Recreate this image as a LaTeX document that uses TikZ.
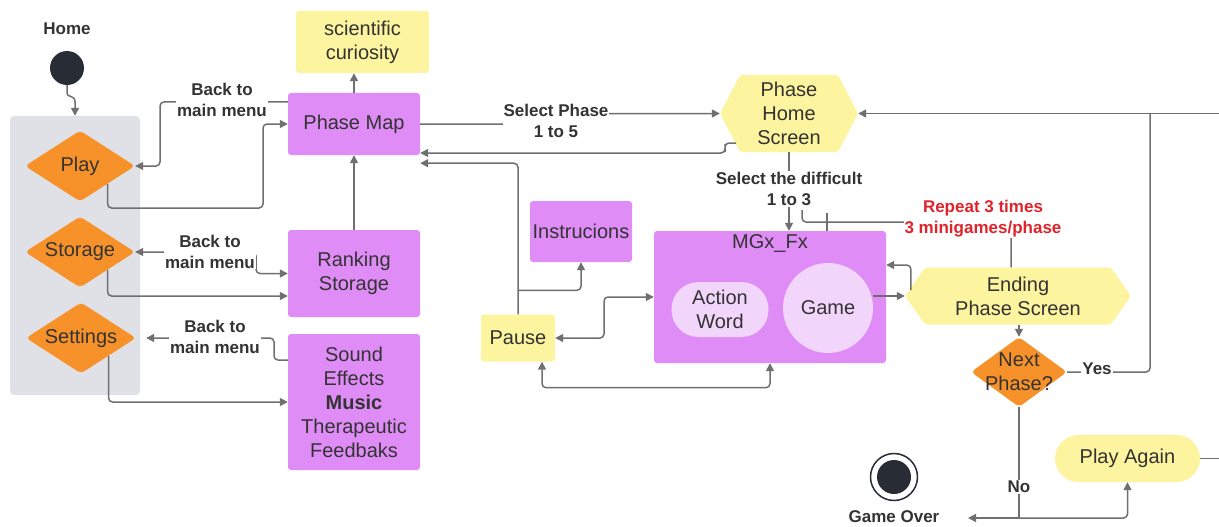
\documentclass[tikz,border=0pt]{standalone}
\usepackage{fontspec}
\setmainfont{Liberation Sans}
\usetikzlibrary{arrows.meta,shapes.geometric}
\definecolor{purc}{HTML}{DF8CF6}
\definecolor{yelc}{HTML}{FCF49E}
\definecolor{orc}{HTML}{F7922B}
\definecolor{grayc}{HTML}{DFE1E6}
\definecolor{linec}{HTML}{6F6F6F}
\definecolor{txtc}{HTML}{333333}
\definecolor{darkc}{HTML}{282C34}
\definecolor{lpc}{HTML}{F2D5FB}
\definecolor{redc}{HTML}{E0242B}
\newcommand\nfont{\fontsize{20}{24}\selectfont}
\newcommand\lfont{\fontsize{17}{21}\selectfont\bfseries}
\begin{document}
\begin{tikzpicture}[x=1pt,y=-1pt,
 box/.style={rounded corners=3pt, text=txtc, font=\nfont, align=center, inner sep=0pt},
 pbox/.style={box, fill=purc},
 ybox/.style={box, fill=yelc},
 dia/.style={diamond, fill=orc, inner sep=0pt, rounded corners=4pt},
 dtext/.style={text=txtc, font=\nfont, align=center},
 hexa/.style={text=txtc, font=\nfont, align=center, inner sep=0pt,
   path picture={\fill[yelc, rounded corners=3pt] (path picture bounding box.west) -- ([xshift=#1]path picture bounding box.north west) -- ([xshift=-#1]path picture bounding box.north east) -- (path picture bounding box.east) -- ([xshift=-#1]path picture bounding box.south east) -- ([xshift=#1]path picture bounding box.south west) -- cycle;}},
 hexa/.default=20pt,
 conn/.style={draw=linec, line width=1.5pt, rounded corners=4pt},
 >={Triangle[length=8pt,width=8pt]},
 lbl/.style={fill=white, font=\lfont, text=txtc, align=center, inner sep=1pt},
]
\useasboundingbox (0,0) rectangle (1219,527);

% left column
\node[font=\lfont, text=txtc] (homel) at (67,29) {Home};
\node[circle, fill=darkc, minimum size=34pt, inner sep=0pt] (start) at (67,68) {};
\node[fill=grayc, rounded corners=4pt, minimum width=130pt, minimum height=279pt, inner sep=0pt] (grp) at (75,255.5) {};
\node[dia, minimum width=110pt, minimum height=71pt, label={[dtext]center:Play}] (play) at (80,166) {};
\node[dia, minimum width=110pt, minimum height=71pt, label={[dtext]center:Storage}] (stor) at (80,252) {};
\node[dia, minimum width=110pt, minimum height=71pt, label={[dtext]center:Settings}] (set) at (81,338) {};

% boxes
\node[ybox, minimum width=133pt, minimum height=62pt] (sci) at (362.5,42) {scientific\\curiosity};
\node[pbox, minimum width=132pt, minimum height=62pt] (pm) at (354,124) {Phase Map};
\node[pbox, minimum width=132pt, minimum height=87pt] (rank) at (354,273.5) {Ranking\\Storage};
\node[pbox, minimum width=132pt, minimum height=136pt] (snd) at (354,402) {Sound\\Effects\\\textbf{Music}\\Therapeutic\\Feedbaks};
\node[pbox, minimum width=102pt, minimum height=61pt] (ins) at (581,231.5) {Instrucions};
\node[ybox, minimum width=74pt, minimum height=47pt] (pause) at (518,338) {Pause};
\node[pbox, minimum width=232pt, minimum height=132pt] (mgx) at (770,297) {};
\node[text=txtc, font=\nfont, inner sep=0pt] (mgxt) at (770,244) {MGx\_Fx};
\node[box, fill=lpc, rounded corners=27pt, minimum width=97pt, minimum height=55pt] (aw) at (720,309.5) {Action\\Word};
\node[circle, fill=lpc, minimum size=90pt, text=txtc, font=\nfont, inner sep=0pt] (game) at (828,308) {Game};
\node[hexa, minimum width=138pt, minimum height=77pt] (phs) at (789,113.5) {Phase\\Home\\Screen};
\node[hexa, minimum width=226pt, minimum height=57pt] (end) at (1018,296) {Ending\\Phase Screen};
\node[dia, minimum width=96pt, minimum height=70pt, label={[dtext]center:{Next\\Phase?}}] (np) at (1019,372) {};
\node[ybox, rounded corners=23.5pt, minimum width=145pt, minimum height=47pt] (again) at (1127.5,458.5) {Play Again};
\node[circle, draw=darkc, line width=1.5pt, minimum size=47pt, inner sep=0pt] (go) at (894,477) {};
\node[circle, fill=darkc, minimum size=34pt, inner sep=0pt] (goin) at (go.center) {};
\node[font=\lfont, text=txtc] (gol) at (894,517) {Game Over};

% free ends
\coordinate (re1) at (1219,113.5);
\coordinate (re2) at (1219,458.5);
\coordinate (tk) at (827,213);
\coordinate (nj) at (1019,518);
\coordinate (gox) at (968,518);

% connectors
\draw[conn,->,rounded corners=0pt] (start.south) -- (67,92) .. controls (67,99) and (75,94) .. (75,102) -- (grp.north);
\draw[conn,->] (play.south east) |- (263,208) |- (pm.west);
\draw[conn,->] ([yshift=22pt]pm.west) -| (160,140) |- (play.east);
\draw[conn,<->] (stor.east) -| (256,263) |- (rank.west);
\draw[conn,->] (stor.south east) |- ([yshift=-22.5pt]rank.west);
\draw[conn,->,shorten >=10pt] ([yshift=42pt]snd.west) -| (274,350) |- (set.east);
\draw[conn,->] (set.south east) |- (snd.west);
\draw[conn,->] (pm.north) -- (pm.north |- sci.south);
\draw[conn,->] (rank.north) -- (pm.south);
\draw[conn,->] (pm.east) -| (556,119) |- (phs.west);
\draw[conn,->] ([xshift=-53pt,yshift=-29.5pt]phs.center) -| (725,148) |- ([yshift=-29pt]pm.east);
\draw[conn,->] (pause.north) |- ([yshift=-8pt]pm.south east);
\draw[conn,->] ([yshift=24pt]pause.north) -| (ins.south);
\draw[conn,<->] (pause.east) -| (604,317) |- (mgx.west);
\draw[conn,<->] ([xshift=24pt]pause.south) -- ++(0,26) -| (mgx.south);
\draw[conn,->] (phs.south) -- (phs.south |- mgx.north);
\draw[conn] (tk) -- (tk |- mgx.north);
\draw[conn] ([xshift=-7pt]end.north) |- (802,222) -- (802,210);
\draw[conn,->] (end.west -| game.east) -- (end.west);
\draw[conn,->] ([xshift=6pt,yshift=6pt]end.west) |- ([yshift=32pt]mgx.east);
\draw[conn,->] (end.south -| np.north) -- (np.north);
\draw[conn,->] (re1) -- (phs.east);
\draw[conn] (np.east) -| (1150,113.5);
\draw[conn] (np.south) -- (nj);
\draw[conn,->] (nj) -- (gox);
\draw[conn,->] (nj) -| (again.south);
\draw[conn] (again.east) -- (re2);

% labels
\node[lbl] (l1) at (222,100) {Back to\\main menu};
\node[lbl] (l2) at (210,251.5) {Back to\\main menu};
\node[lbl] (l3) at (215,336.5) {Back to\\main menu};
\node[lbl] (l4) at (556,121) {Select Phase\\1 to 5};
\node[lbl] (l5) at (789,189) {Select the difficult\\1 to 3};
\node[lbl, text=redc] (l6) at (983,219) {Repeat 3 times\\3 minigames/phase};
\node[lbl] (l7) at (1097,369) {Yes};
\node[lbl] (l8) at (1019,487) {No};
\end{tikzpicture}
\end{document}
